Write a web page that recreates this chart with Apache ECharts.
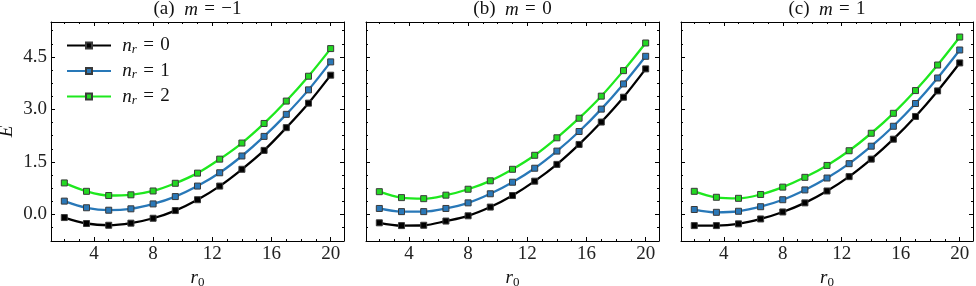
<!DOCTYPE html>
<html><head><meta charset="utf-8">
<script src="https://cdn.jsdelivr.net/npm/echarts@6/dist/echarts.min.js"></script>
<style>html,body{margin:0;padding:0;background:#fff}#c{width:976px;height:286px}</style>
</head><body><div id="c"></div>
<script>
// ---- data ----
const r0 = [2, 3.5, 5, 6.5, 8, 9.5, 11, 12.5, 14, 15.5, 17, 18.5, 20];
const panelTitles = ['(a)', '(b)', '(c)'];
const mValues = ['−1', '0', '1'];
const levels = ['0', '1', '2'];
// m = -1
const Em1_n0 = [-0.09, -0.26, -0.31, -0.25, -0.11, 0.11, 0.42, 0.81, 1.29, 1.83, 2.48, 3.18, 3.98];
const Em1_n1 = [0.38, 0.19, 0.12, 0.16, 0.30, 0.51, 0.81, 1.19, 1.67, 2.23, 2.86, 3.56, 4.36];
const Em1_n2 = [0.90, 0.66, 0.54, 0.56, 0.67, 0.89, 1.18, 1.58, 2.04, 2.60, 3.24, 3.95, 4.74];
// m = 0
const E0_n0 = [-0.24, -0.32, -0.31, -0.19, -0.04, 0.21, 0.54, 0.95, 1.43, 2.00, 2.64, 3.35, 4.16];
const E0_n1 = [0.17, 0.08, 0.08, 0.17, 0.33, 0.59, 0.92, 1.32, 1.81, 2.37, 3.01, 3.73, 4.52];
const E0_n2 = [0.65, 0.48, 0.45, 0.55, 0.72, 0.96, 1.29, 1.69, 2.19, 2.75, 3.38, 4.11, 4.90];
// m = 1
const E1_n0 = [-0.32, -0.32, -0.27, -0.13, 0.07, 0.33, 0.67, 1.08, 1.58, 2.15, 2.80, 3.53, 4.33];
const E1_n1 = [0.14, 0.06, 0.09, 0.22, 0.42, 0.70, 1.04, 1.45, 1.95, 2.52, 3.17, 3.90, 4.70];
const E1_n2 = [0.66, 0.49, 0.46, 0.57, 0.78, 1.06, 1.40, 1.82, 2.32, 2.89, 3.54, 4.27, 5.07];
// ticks
const xMajorTicks = [4, 8, 12, 16, 20];
const xMinorTicks = [2, 3, 5, 6, 7, 9, 10, 11, 13, 14, 15, 17, 18, 19];
const yMajorTicks = [0, 1.5, 3, 4.5];
const yMinorTicks = [-0.375, 0.375, 0.75, 1.125, 1.875, 2.25, 2.625, 3.375, 3.75, 4.125, 4.875, 5.25];

const panelData = [[Em1_n0, Em1_n1, Em1_n2], [E0_n0, E0_n1, E0_n2], [E1_n0, E1_n1, E1_n2]];

// ---- styles ----
const FONT = 'Liberation Serif';
const lineColors = ['#000000', '#2878b8', '#1ee81e'];
const markColors = ['#000000', '#2a78b8', '#22d822'];
const gridLeft = [51, 366, 681];
const gridWidth = [293, 293, 292];
const X_MIN = 1.1, X_MAX = 20.9, Y_MIN = -0.76, Y_MAX = 5.5;
const SP = '\u2004';

const richBase = {
  u: {fontFamily: FONT, fontSize: 19, color: '#111', lineHeight: 21},
  i: {fontFamily: FONT, fontSize: 19, fontStyle: 'italic', color: '#111', lineHeight: 21},
  s: {fontFamily: FONT, fontSize: 13, fontStyle: 'italic', color: '#111', lineHeight: 13, verticalAlign: 'bottom'},
  z: {fontFamily: FONT, fontSize: 13, color: '#111', lineHeight: 13, verticalAlign: 'bottom'}
};

const grids = [], xAxes = [], yAxes = [], series = [];
function axisBase(p, extra) {
  return Object.assign({
    type: 'value', gridIndex: p, splitLine: {show: false},
    axisLine: {show: false, onZero: false}, axisLabel: {show: false}
  }, extra);
}
const lineOn = {show: true, onZero: false, lineStyle: {color: '#000', width: 1}};
for (let p = 0; p < 3; p++) {
  grids.push({left: gridLeft[p], top: 22, width: gridWidth[p], height: 219,
    containLabel: false, outerBoundsMode: 'none'});
  const xi = xAxes.length, yi = yAxes.length;
  xAxes.push(axisBase(p, {
    position: 'bottom', min: X_MIN, max: X_MAX, axisLine: lineOn,
    axisTick: {show: true, inside: true, length: 4, customValues: xMajorTicks, lineStyle: {color: '#000'}},
    axisLabel: {show: true, customValues: xMajorTicks, margin: 4, fontFamily: FONT, fontSize: 19, color: '#222'},
    name: '{i|r}{z|0}', nameLocation: 'middle', nameGap: 22,
    nameTextStyle: {rich: richBase}
  }));
  xAxes.push(axisBase(p, {
    position: 'bottom', min: X_MIN, max: X_MAX,
    axisTick: {show: true, inside: true, length: 2, customValues: xMinorTicks, lineStyle: {color: '#000'}}
  }));
  xAxes.push(axisBase(p, {
    position: 'top', min: X_MIN, max: X_MAX, axisLine: lineOn,
    axisTick: {show: true, inside: true, length: 4, customValues: xMajorTicks, lineStyle: {color: '#000'}},
    name: '{u|' + panelTitles[p] + '  }{i|m}{u|' + SP + '=' + SP + mValues[p] + '}',
    nameLocation: 'middle', nameGap: 2,
    nameTextStyle: {rich: richBase}
  }));
  xAxes.push(axisBase(p, {
    position: 'top', min: X_MIN, max: X_MAX,
    axisTick: {show: true, inside: true, length: 2, customValues: xMinorTicks, lineStyle: {color: '#000'}}
  }));
  yAxes.push(axisBase(p, {
    position: 'left', min: Y_MIN, max: Y_MAX, axisLine: lineOn,
    axisTick: {show: true, inside: true, length: 4, customValues: yMajorTicks, lineStyle: {color: '#000'}},
    axisLabel: {show: p === 0, customValues: yMajorTicks, margin: 4, fontFamily: FONT, fontSize: 19, color: '#222',
      formatter: v => Number(v).toFixed(1)},
    name: p === 0 ? '{i|E}' : '', nameLocation: 'middle', nameGap: 34, nameRotate: 90,
    nameTextStyle: {rich: richBase}
  }));
  yAxes.push(axisBase(p, {
    position: 'left', min: Y_MIN, max: Y_MAX,
    axisTick: {show: true, inside: true, length: 2, customValues: yMinorTicks, lineStyle: {color: '#000'}}
  }));
  yAxes.push(axisBase(p, {
    position: 'right', min: Y_MIN, max: Y_MAX, axisLine: lineOn,
    axisTick: {show: true, inside: true, length: 4, customValues: yMajorTicks, lineStyle: {color: '#000'}}
  }));
  yAxes.push(axisBase(p, {
    position: 'right', min: Y_MIN, max: Y_MAX,
    axisTick: {show: true, inside: true, length: 2, customValues: yMinorTicks, lineStyle: {color: '#000'}}
  }));
  for (let n = 0; n < 3; n++) {
    series.push({
      type: 'line', name: 'n' + levels[n], xAxisIndex: xi, yAxisIndex: yi,
      data: r0.map((x, k) => [x, panelData[p][n][k]]),
      smooth: 0.35, symbol: 'rect', symbolSize: 6, showSymbol: true,
      lineStyle: {color: lineColors[n], width: 2.3},
      itemStyle: {color: markColors[n], borderColor: '#3a3a3a', borderWidth: 1},
      emphasis: {disabled: true}, animation: false, z: 2 + n
    });
  }
}

const chart = echarts.init(document.getElementById('c'), null, {renderer: 'canvas'});
chart.setOption({
  animation: false,
  grid: grids, xAxis: xAxes, yAxis: yAxes, series: series,
  legend: {
    show: true, orient: 'vertical', left: 66, top: 36, padding: 0, itemGap: 5.5,
    itemWidth: 44, itemHeight: 7.5,
    data: levels.map(l => 'n' + l),
    formatter: name => '{u|' + SP + '}{i|n}{s|r}{u|' + SP + '=' + SP + name.slice(1) + '}',
    textStyle: {rich: richBase},
    selectedMode: false
  }
});
</script></body></html>
